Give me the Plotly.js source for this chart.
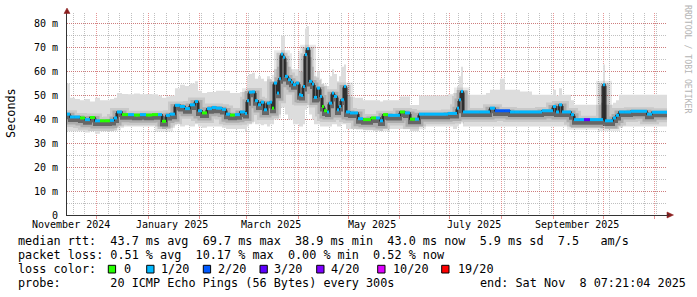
<!DOCTYPE html>
<html><head><meta charset="utf-8">
<script src="https://cdn.plot.ly/plotly-3.0.1.min.js"></script>
<style>html,body{margin:0;padding:0;background:#fff;}#chart{width:697px;height:297px;}</style>
</head><body><div id="chart"></div>
<script>
// ---- data (one sample per time step) ----
const dates = [
'2024-11-13 07:00','2024-11-15 02:00','2024-11-18 02:00','2024-11-21 02:00','2024-11-24 02:00','2024-11-27 02:00','2024-11-30 02:00','2024-12-03 02:00','2024-12-06 02:00','2024-12-09 02:00',
'2024-12-11 12:00','2024-12-13 07:00','2024-12-16 07:00','2024-12-19 22:00','2024-12-23 12:00','2024-12-27 02:00','2024-12-30 17:00','2025-01-03 07:00','2025-01-06 22:00','2025-01-09 07:00',
'2025-01-11 17:00','2025-01-14 02:00','2025-01-17 02:00','2025-01-20 02:00','2025-01-23 02:00','2025-01-26 02:00','2025-01-29 02:00','2025-01-30 22:00','2025-02-02 07:00','2025-02-05 07:00',
'2025-02-08 07:00','2025-02-10 17:00','2025-02-14 07:00','2025-02-16 17:00','2025-02-19 02:00','2025-02-22 02:00','2025-02-25 02:00','2025-02-28 02:00','2025-03-01 07:00','2025-03-02 12:00',
'2025-03-04 07:00','2025-03-06 02:00','2025-03-07 22:00','2025-03-09 17:00','2025-03-11 12:00','2025-03-13 07:00','2025-03-15 02:00','2025-03-16 07:00','2025-03-17 12:00','2025-03-19 07:00',
'2025-03-20 12:00','2025-03-21 17:00','2025-03-22 22:00','2025-03-24 02:00','2025-03-25 22:00','2025-03-27 17:00','2025-03-28 22:00','2025-03-30 17:00','2025-04-01 12:00','2025-04-02 17:00',
'2025-04-03 22:00','2025-04-05 02:00','2025-04-06 07:00','2025-04-07 12:00','2025-04-09 07:00','2025-04-10 12:00','2025-04-12 07:00','2025-04-14 02:00','2025-04-15 07:00','2025-04-16 12:00',
'2025-04-18 07:00','2025-04-19 12:00','2025-04-21 07:00','2025-04-22 12:00','2025-04-24 07:00','2025-04-25 12:00','2025-04-26 17:00','2025-04-28 12:00','2025-04-29 17:00','2025-05-02 02:00',
'2025-05-05 02:00','2025-05-06 22:00','2025-05-09 22:00','2025-05-12 07:00','2025-05-14 17:00','2025-05-17 17:00','2025-05-20 02:00','2025-05-21 22:00','2025-05-24 22:00','2025-05-28 12:00',
'2025-06-01 02:00','2025-06-04 02:00','2025-06-07 02:00','2025-06-10 02:00','2025-06-12 12:00','2025-06-16 02:00','2025-06-19 17:00','2025-06-23 07:00','2025-06-26 22:00','2025-06-29 22:00',
'2025-07-02 22:00','2025-07-05 07:00','2025-07-06 12:00','2025-07-07 17:00','2025-07-08 22:00','2025-07-11 22:00','2025-07-15 12:00','2025-07-19 02:00','2025-07-22 17:00','2025-07-25 02:00',
'2025-07-28 02:00','2025-07-31 02:00','2025-08-03 02:00','2025-08-06 02:00','2025-08-09 02:00','2025-08-12 02:00','2025-08-15 17:00','2025-08-19 07:00','2025-08-22 22:00','2025-08-25 07:00',
'2025-08-28 22:00','2025-08-31 22:00','2025-09-02 17:00','2025-09-04 12:00','2025-09-06 07:00','2025-09-09 07:00','2025-09-11 17:00','2025-09-13 12:00','2025-09-17 02:00','2025-09-19 12:00',
'2025-09-23 02:00','2025-09-26 17:00','2025-09-29 17:00','2025-09-30 22:00','2025-10-02 02:00','2025-10-05 02:00','2025-10-06 22:00','2025-10-08 17:00','2025-10-10 12:00','2025-10-14 02:00',
'2025-10-17 17:00','2025-10-21 07:00','2025-10-24 22:00','2025-10-27 07:00','2025-10-30 07:00','2025-11-02 22:00','2025-11-06 12:00','2025-11-08 07:00'
];
// median rtt (ms)
const median = [
42.2,41.0,41.0,40.6,39.9,40.8,39.4,39.4,39.4,39.6,
40.6,43.1,42.0,42.0,41.8,42.0,41.8,42.0,42.0,39.2,
41.7,42.2,45.9,45.4,44.5,46.1,47.5,43.6,42.7,44.5,
45.0,44.7,44.2,42.2,41.8,42.0,43.1,42.5,47.8,51.4,
51.5,47.8,46.1,47.2,44.0,46.8,47.2,44.7,55.2,51.0,
57.0,67.3,66.0,58.0,56.6,55.6,54.5,55.2,50.3,50.0,
53.8,67.1,69.6,55.9,54.8,49.2,53.1,49.6,45.4,43.6,
43.1,46.8,51.0,49.6,44.0,45.4,48.2,53.8,43.1,42.7,
42.7,40.3,39.9,39.9,40.6,40.6,39.4,42.0,41.7,41.7,
43.1,42.7,40.1,40.1,42.2,42.2,42.2,42.2,42.2,42.5,
42.5,44.7,48.2,51.7,43.1,43.1,43.1,43.1,43.1,44.7,
43.6,43.6,43.6,43.1,43.1,43.1,43.1,43.1,43.1,43.6,
43.6,45.4,43.1,46.1,43.1,43.1,42.0,39.9,39.9,39.9,
39.9,39.9,39.9,54.5,39.4,39.4,40.6,41.7,43.1,43.1,
43.4,43.4,43.4,42.2,43.0,43.0,43.0,43.0
];
// top of the smoke (slowest pings, ms)
const smokeHi = [
55,49,48.5,48,48.5,47.5,49,48,48,48.5,
49,51,50.6,50.5,50.8,50.5,50.6,50.5,50,49,
49.6,50,53,54.5,54,55,56,52,51,51.5,
51.5,52,52,52,51,51,51.5,52,58,59,
59.5,57,58,57,56,58,57,56,61,62,
66,75,75,64,62,61,61,61,60,60,
65,78,79,66,62,58,60,57,55,54,
54,58,61,59,56,58,62,63,50,49.5,
49,49,48,48,48,48,47.5,48,48,48,
49.6,49.6,46,46,50,50,50,50,50,50.5,
51,54,58,62,52,50.3,50.3,50.3,51,52.4,
52.4,57,52.4,52.4,52.4,51.7,51.7,50.3,50.3,50.3,
50.3,52.4,50,53,50.3,50.3,48,46.1,46.1,46.1,
46.1,46.1,47,63,46.1,46.1,47,48,50.3,50.3,
50.3,50.3,50.3,50.3,50.3,50.3,50.3,50.3
];
// bottom of the smoke (fastest pings, ms)
const smokeLo = [
35,35,35,35,34.5,35,34,35,35,35,
35.5,37,37,37,37,37,37,37,37,36,
36.5,36.5,38,37,37.5,37,38,37,36.5,37,
37,37,36.5,36,36,36,36,35,37,38,
39,38,38,37.5,38,37,38,38,40,40,
42,45,45,42,40,40,38,38,37,37,
38,44,46,42,40,38,38,37,37,37,
37,37,38,38,37,37,38,38,36,36,
36,36,35.5,35.5,35.5,35.5,35,36,36,36,
36,36,35,35,37,37,37,37,37,37,
36,37,38,39,37,37,37,37,37,37,
37,37,37,37,37,37,37,37,37,37,
37,37,37,37,37,37,36.4,36.4,36.4,36.4,
36.4,36.4,36.4,38,36,36,36,36,37,37,
37,37,37,37,37,37,37,37
];
// packet-loss class of each sample (index into lossLabels)
const lossIdx = [
1,1,1,0,1,0,1,0,0,1,
1,1,0,1,0,1,0,0,1,0,
1,1,1,1,1,1,1,1,0,1,
1,1,1,1,0,1,1,1,1,1,
1,1,1,1,1,1,1,0,1,1,
1,1,1,1,1,1,1,1,1,1,
1,1,1,1,1,1,1,1,0,0,
1,1,1,1,1,1,1,1,1,1,
1,1,0,0,0,1,1,0,1,1,
0,1,0,1,1,1,1,1,1,1,
1,1,1,1,1,1,1,1,1,1,
2,2,2,1,1,1,1,1,1,1,
1,1,1,1,1,1,1,1,1,3,
1,1,1,1,1,1,1,1,1,1,
1,1,1,1,1,1,1,1
];
const lossLabels = ['0','1/20','2/20','3/20','4/20','10/20','19/20'];
const lossColors = ['#26ff00','#00b8ff','#0059ff','#5e00ff','#7e00ff','#dd00ff','#ff0000'];

const yTickVals = [0,10,20,30,40,50,60,70,80];
const yTickText = ['0','10 m','20 m','30 m','40 m','50 m','60 m','70 m','80 m'];
const monthLabelDates = ['2024-11-15 12:00','2025-01-15 12:00','2025-03-15 12:00','2025-05-15 12:00','2025-07-15 12:00','2025-09-15 12:00'];
const monthLabels = ['November 2024','January 2025','March 2025','May 2025','July 2025','September 2025'];

const statLines = [
  'median rtt:  43.7 ms avg  69.7 ms max  38.9 ms min  43.0 ms now  5.9 ms sd  7.5   am/s',
  'packet loss: 0.51 % avg  10.17 % max  0.00 % min  0.52 % now',
  'loss color:',
  'probe:       20 ICMP Echo Pings (56 Bytes) every 300s'
];
const endText = 'end: Sat Nov  8 07:21:04 2025';
const xRange = ['2024-11-13 07:21','2025-11-08 07:21'];

// ---- layout helpers (pixel -> paper) ----
const W = 697, H = 297, L = 67, R = 30, T = 13, B = 82;
const PW = W - L - R, PH = H - T - B;
const px = v => (v - L) / PW;
const py = v => (H - B - v) / PH;
const MONO = 'DejaVu Sans Mono';

const traces = [];
traces.push({x: dates, y: smokeLo, mode: 'lines', line: {width: 0, shape: 'hv'}, hoverinfo: 'skip', showlegend: false});
traces.push({x: dates, y: smokeHi, mode: 'lines', line: {width: 0, shape: 'hv'}, fill: 'tonexty', fillcolor: '#dddddd', hoverinfo: 'skip', showlegend: false});
// graded smoke around the median (drawn slightly below it, like the ping cloud)
[[14, 'rgba(0,0,0,0.09)'], [9, 'rgba(0,0,0,0.15)'], [4, 'rgba(0,0,0,0.4)']].forEach(([w, c]) =>
  traces.push({x: dates, y: median, yaxis: 'y2', mode: 'lines', line: {width: w, shape: 'hv', color: c}, hoverinfo: 'skip', showlegend: false}));
traces.push({x: dates, y: median, yaxis: 'y3', mode: 'lines', line: {width: 1.3, shape: 'hv', color: '#111'}, hoverinfo: 'skip', showlegend: false});
lossColors.forEach((c, k) => {
  const xs = [], ys = [];
  for (let i = 0; i < dates.length - 1; i++) {
    if (lossIdx[i] === k) { xs.push(dates[i], dates[i + 1], null); ys.push(median[i], median[i], null); }
  }
  if (xs.length) traces.push({x: xs, y: ys, yaxis: 'y3', mode: 'lines', line: {width: 3, color: c}, connectgaps: false, hoverinfo: 'skip', showlegend: false});
});

const gridRed = 'rgba(215,80,80,0.6)';
const gridGrey = 'rgba(150,150,150,0.6)';

const annotations = [];
monthLabelDates.forEach((d, i) => annotations.push({x: d, xref: 'x', y: py(224.5), yref: 'paper', text: monthLabels[i], showarrow: false, xanchor: 'center', yanchor: 'middle', font: {family: MONO, size: 10, color: '#000'}}));
annotations.push({x: px(11), y: py(113), xref: 'paper', yref: 'paper', text: 'Seconds', textangle: -90, showarrow: false, xanchor: 'center', yanchor: 'middle', font: {family: MONO, size: 11.8, color: '#000'}});
annotations.push({x: px(688), y: py(59), xref: 'paper', yref: 'paper', text: 'RRDTOOL / TOBI OETIKER', textangle: 90, showarrow: false, xanchor: 'center', yanchor: 'middle', font: {family: MONO, size: 8.2, color: '#b4b4b4'}});
const lineY = [240.7, 255, 269, 283.3];
statLines.forEach((t, i) => annotations.push({x: px(15.5), y: py(lineY[i]), xref: 'paper', yref: 'paper', text: t.replace(/ /g, '\u00a0'), showarrow: false, xanchor: 'left', yanchor: 'middle', font: {family: MONO, size: 11.8, color: '#000'}}));
annotations.push({x: px(477.8), y: py(lineY[3]), xref: 'paper', yref: 'paper', text: endText.replace(/ /g, '\u00a0'), showarrow: false, xanchor: 'left', yanchor: 'middle', font: {family: MONO, size: 11.8, color: '#000'}});

const boxX = [108.3, 146.7, 203.3, 260, 316.7, 377.7, 441.7];
const labX = [122, 158.5, 216, 272, 328.5, 391, 456];
const shapes = [];
lossLabels.forEach((lab, i) => {
  shapes.push({type: 'rect', xref: 'paper', yref: 'paper', x0: px(boxX[i]), x1: px(boxX[i] + 7.3), y0: py(273), y1: py(265.3), fillcolor: lossColors[i], line: {color: '#000', width: 1}});
  annotations.push({x: px(labX[i]), y: py(lineY[2]), xref: 'paper', yref: 'paper', text: lab, showarrow: false, xanchor: 'left', yanchor: 'middle', font: {family: MONO, size: 11.8, color: '#000'}});
});
// axis arrows
shapes.push({type: 'path', xref: 'paper', yref: 'paper', path: `M ${px(667)} ${py(212)} L ${px(673.5)} ${py(215)} L ${px(667)} ${py(218)} Z`, fillcolor: '#8b1e1e', line: {color: '#8b1e1e', width: 0.5}});
shapes.push({type: 'path', xref: 'paper', yref: 'paper', path: `M ${px(64)} ${py(13.5)} L ${px(67)} ${py(8)} L ${px(70)} ${py(13.5)} Z`, fillcolor: '#8b1e1e', line: {color: '#8b1e1e', width: 0.5}});
shapes.push({type: 'line', xref: 'paper', yref: 'paper', x0: 1, x1: px(669), y0: 0, y1: 0, line: {color: '#333', width: 1}});

const layout = {
  width: W, height: H,
  margin: {l: L, r: R, t: T, b: B, pad: 0},
  paper_bgcolor: '#fff', plot_bgcolor: '#fff',
  font: {family: MONO, size: 10, color: '#000'},
  showlegend: false,
  xaxis: {
    type: 'date', range: xRange, fixedrange: true,
    showgrid: true, gridcolor: gridRed, griddash: '1px,1px', gridwidth: 1,
    dtick: 'M1', tick0: '2024-12-01', showticklabels: false,
    ticks: 'outside', ticklen: 3, tickcolor: gridRed,
    showline: true, linecolor: '#333', linewidth: 1, zeroline: false,
    minor: {dtick: 604800000, tick0: '2024-12-01', showgrid: true, gridcolor: gridGrey, griddash: '1px,1px', gridwidth: 1, ticks: ''}
  },
  yaxis: {
    range: [0, 84.5], fixedrange: true,
    tickvals: yTickVals, ticktext: yTickText, tickfont: {family: MONO, size: 10, color: '#000'},
    showgrid: true, gridcolor: gridRed, griddash: '1px,1px', gridwidth: 1,
    ticks: '', ticklabelstandoff: 6,
    showline: true, linecolor: '#333', linewidth: 1, zeroline: false,
    minor: {dtick: 5, showgrid: true, gridcolor: gridGrey, griddash: '1px,1px', gridwidth: 1, ticks: ''}
  },
  yaxis2: {overlaying: 'y', range: [1.3, 85.8], visible: false, fixedrange: true},
  yaxis3: {overlaying: 'y', range: [0, 84.5], visible: false, fixedrange: true},
  annotations: annotations,
  shapes: shapes
};

Plotly.newPlot('chart', traces, layout, {staticPlot: true, displayModeBar: false});
</script></body></html>
